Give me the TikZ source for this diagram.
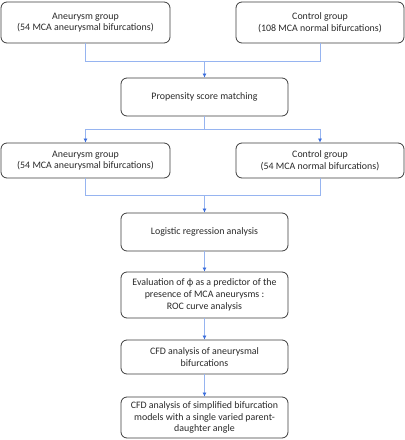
\documentclass[tikz,border=0pt]{standalone}
\usepackage{fontspec}
\setmainfont{Carlito}
\usetikzlibrary{arrows.meta, positioning}
\definecolor{linkblue}{RGB}{150,180,240}
\definecolor{tipblue}{RGB}{60,110,220}
\definecolor{boxgray}{RGB}{60,60,60}
\definecolor{textgray}{RGB}{40,40,40}

\begin{document}
\begin{tikzpicture}[x=1pt, y=-1pt,
    stage/.style={draw=boxgray, line width=0.8pt, rounded corners=6pt, align=center,
      text=textgray, font=\fontsize{9.9}{11.7}\selectfont, inner sep=0pt},
    link/.style={draw=linkblue, line width=0.7pt},
    flow/.style={link, -{Latex[color=tipblue, length=4pt, width=4pt]}}]
\useasboundingbox (0,0) rectangle (405,440);

% first row: the two groups
\node[stage, minimum width=169pt, minimum height=41pt] (aneuA) at (85.5,22.5) {Aneurysm group\\(54 MCA aneurysmal bifurcations)};
\node[stage, minimum width=168pt, minimum height=41pt] (ctrlA) at (320,22.5) {Control group\\(108 MCA normal bifurcations)};

% matching
\node[stage, minimum width=167pt, minimum height=38pt] (match) at (204.5,97) {Propensity score matching};

% matched groups
\node[stage, minimum width=169pt, minimum height=35pt] (aneuB) at (85.5,160.5) {Aneurysm group\\(54 MCA aneurysmal bifurcations)};
\node[stage, minimum width=168pt, minimum height=35pt] (ctrlB) at (320,160.5) {Control group\\(54 MCA normal bifurcations)};

% analysis chain
\node[stage, minimum width=167pt, minimum height=38pt] (logit) at (204.5,232) {Logistic regression analysis};
\node[stage, minimum width=167pt, minimum height=46pt] (roc) at (204.5,295) {Evaluation of ϕ as a predictor of the\\presence of MCA aneurysms :\\ROC curve analysis};
\node[stage, minimum width=167pt, minimum height=34pt] (cfdA) at (204.5,357) {CFD analysis of aneurysmal\\bifurcations};
\node[stage, minimum width=167pt, minimum height=41pt] (cfdB) at (204.5,417.5) {CFD analysis of simplified bifurcation\\models with a single varied parent-\\daughter angle};

% joints
\coordinate (joinA) at (204.5,61);
\coordinate (splitA) at (204.5,129);
\coordinate (joinB) at (204.5,195);

\draw[link] (aneuA.south) |- (joinA);
\draw[link] (ctrlA.south) |- (joinA);
\draw[flow] (joinA) -- (match.north);

\draw[link] (match.south) -- (splitA);
\draw[flow] (splitA) -| (aneuB.north);
\draw[flow] (splitA) -| (ctrlB.north);

\draw[link] (aneuB.south) |- (joinB);
\draw[link] (ctrlB.south) |- (joinB);
\draw[flow] (joinB) -- (logit.north);

\draw[flow] (logit) -- (roc);
\draw[flow] (roc) -- (cfdA);
\draw[flow] (cfdA) -- (cfdB);
\end{tikzpicture}
\end{document}
